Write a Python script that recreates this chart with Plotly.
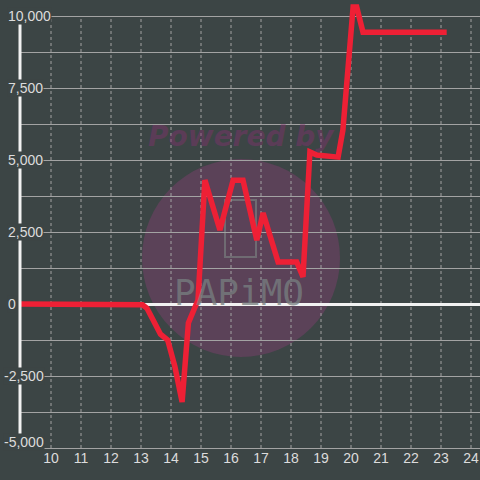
import plotly.graph_objects as go

# ---- data ----
x_vals = [8.9, 12.95, 13.05, 13.2, 13.4, 13.65, 13.89, 14.13, 14.37, 14.58, 14.9, 15.13,
          15.63, 16.07, 16.4, 16.86, 17.07, 17.57, 18.19, 18.4, 18.63, 18.86, 19.57,
          19.73, 20.07, 20.19, 20.4, 23.19]
y_vals = [0, 0, -30, -150, -550, -1050, -1250, -2175, -3400, -660, 140, 4300,
          2570, 4300, 4300, 2220, 3160, 1460, 1460, 940, 5280, 5170, 5100,
          6040, 10310, 10310, 9440, 9440]
x_ticks = list(range(10, 25))
y_label_vals = [10000, 7500, 5000, 2500, 0, -2500, -5000]
y_grid_vals = [-5000, -3750, -2500, -1250, 0, 1250, 2500, 3750, 5000, 6250, 7500, 8750, 10000]

BG = "#3c4545"
GRID = "#a3a3a3"
TXT = "#dcdcdc"
W = 480.0

fig = go.Figure()
fig.add_trace(go.Scatter(x=x_vals, y=y_vals, mode="lines",
                         line=dict(color="#ee2035", width=5.5),
                         hoverinfo="skip", showlegend=False))

shapes = []
# watermark circle
shapes.append(dict(type="circle", xref="paper", yref="paper",
                   x0=142 / W, x1=340 / W, y0=1 - 357 / W, y1=1 - 159 / W,
                   fillcolor="rgba(149,60,123,0.35)", line=dict(width=0), layer="below"))
# phone outline of logo
shapes.append(dict(type="rect", xref="paper", yref="paper",
                   x0=225 / W, x1=256 / W, y0=1 - 257 / W, y1=1 - 200 / W,
                   fillcolor="rgba(0,0,0,0)", line=dict(color="rgba(120,125,125,0.7)", width=2),
                   layer="below"))
# vertical dotted grid lines
for xv in x_ticks:
    shapes.append(dict(type="line", xref="x", yref="y", x0=xv, x1=xv,
                       y0=min(y_grid_vals), y1=max(y_grid_vals),
                       line=dict(color=GRID, width=1, dash="dot"), layer="below"))
# y axis line
shapes.append(dict(type="line", xref="x domain", yref="y", x0=0, x1=0,
                   y0=min(y_grid_vals), y1=max(y_grid_vals),
                   line=dict(color="#f2f2f2", width=3), layer="above"))

annotations = []
for v in y_label_vals:
    txt = f"{v:,}"
    annotations.append(dict(x=7 / W, xref="paper", y=v, yref="y", text=txt,
                            showarrow=False, xanchor="left", yanchor="middle",
                            xshift=-4 if v < 0 else 0,
                            yshift=6 if v == min(y_label_vals) else 0,
                            font=dict(family="Liberation Sans, Arial", size=14, color=TXT),
                            bgcolor=BG, borderpad=0))
annotations.append(dict(x=241 / W, y=1 - 136 / W, xref="paper", yref="paper",
                        text="Powered by", showarrow=False, xanchor="center", yanchor="middle",
                        font=dict(family="DejaVu Sans", size=28, color="rgba(131,49,111,0.45)",
                                  weight="bold", style="italic")))
annotations.append(dict(x=239 / W, y=1 - 292 / W, xref="paper", yref="paper",
                        text="PAPiMO", showarrow=False, xanchor="center", yanchor="middle",
                        font=dict(family="DejaVu Sans Mono", size=36, color="rgba(120,128,128,0.75)")))

fig.update_layout(
    width=480, height=480,
    margin=dict(l=0, r=0, t=0, b=0, pad=0, autoexpand=False),
    paper_bgcolor=BG, plot_bgcolor="rgba(0,0,0,0)",
    shapes=shapes, annotations=annotations,
    xaxis=dict(domain=[20 / W, 1], range=[8.3 + 20 / 30, 24.3],
               anchor="free", position=32 / W, automargin=False,
               tickvals=x_ticks, ticktext=[str(t) for t in x_ticks],
               showgrid=False, zeroline=False, showline=False, ticks="",
               tickfont=dict(family="Liberation Sans, Arial", size=14, color=TXT)),
    yaxis=dict(domain=[0, 1], range=[(304 - 480) * 2500 / 72, 304 * 2500 / 72],
               tickvals=y_grid_vals, showticklabels=False, automargin=False,
               showgrid=True, gridcolor=GRID, gridwidth=1,
               zeroline=True, zerolinecolor="#f2f2f2", zerolinewidth=3,
               showline=False, ticks=""),
)

fig.write_html("out.html", config={"displayModeBar": False},
               post_script="document.body.style.margin='0';document.body.style.overflow='hidden';")
